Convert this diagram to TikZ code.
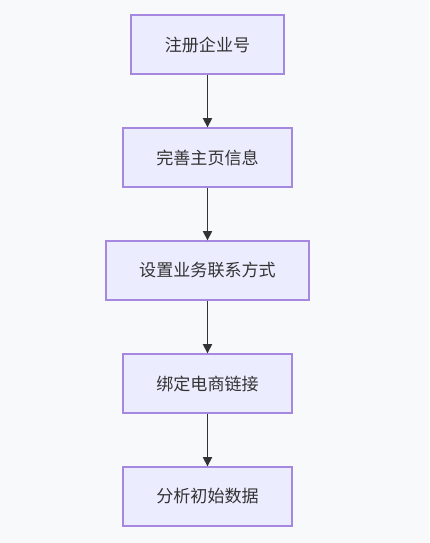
\documentclass[tikz,border=0pt]{standalone}
\usepackage{fontspec}
\newfontfamily\cjk{Noto Sans CJK SC}
\usetikzlibrary{arrows.meta}
\definecolor{bgc}{HTML}{F8F9FA}
\definecolor{boxfill}{HTML}{ECECFF}
\definecolor{boxline}{HTML}{A688E0}
\definecolor{arrowc}{HTML}{333333}
\tikzset{
  stepbox/.style={draw=boxline, fill=boxfill, line width=1pt, minimum height=59*0.75pt, inner sep=0pt, font=\cjk\fontsize{12.8}{15}\selectfont, text=arrowc},
  flow/.style={draw=arrowc, line width=1.1pt, -{Triangle[length=7pt,width=7pt]}}
}
\begin{document}
\begin{tikzpicture}[x=0.75pt,y=-0.75pt]
\fill[bgc] (0,0) rectangle (429,543);
\useasboundingbox (0,0) rectangle (429,543);
\node[stepbox, minimum width=153*0.75pt] (a) at (207.5,44.5) {注册企业号};
\node[stepbox, minimum width=169*0.75pt] (b) at (207.5,157.5) {完善主页信息};
\node[stepbox, minimum width=203*0.75pt] (c) at (207.5,270.5) {设置业务联系方式};
\node[stepbox, minimum width=169*0.75pt] (d) at (207.5,383.5) {绑定电商链接};
\node[stepbox, minimum width=169*0.75pt] (e) at (207.5,496.5) {分析初始数据};
\draw[flow] (a) -- (b);
\draw[flow] (b) -- (c);
\draw[flow] (c) -- (d);
\draw[flow] (d) -- (e);
\end{tikzpicture}
\end{document}
